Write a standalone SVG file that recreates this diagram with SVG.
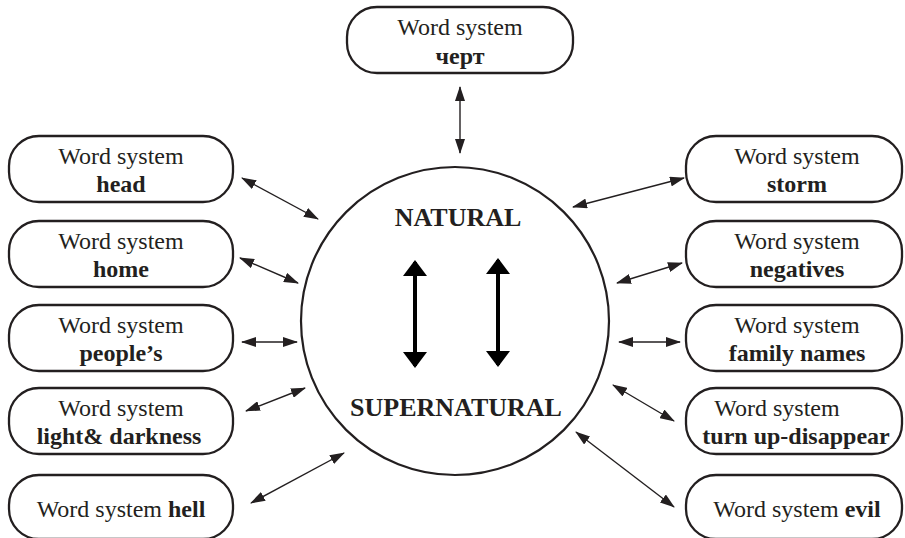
<svg xmlns="http://www.w3.org/2000/svg" width="905" height="538" viewBox="0 0 905 538">
<defs>
<style>
.box{fill:#fff;stroke:#231f20;stroke-width:2.3}
.t{font-family:"Liberation Serif","Times New Roman",serif;font-size:24px;fill:#231f20;text-anchor:middle}
.b{font-weight:bold}
.big{font-family:"Liberation Serif","Times New Roman",serif;font-size:26px;font-weight:bold;fill:#231f20;text-anchor:middle}
.c{stroke:#231f20;stroke-width:1.4;fill:none;marker-start:url(#ah);marker-end:url(#ah)}
.thick{stroke:#000;stroke-width:4;fill:none;marker-start:url(#bh);marker-end:url(#bh)}
</style>
<marker id="ah" viewBox="0 0 15 10" refX="14" refY="5" markerWidth="15" markerHeight="10" markerUnits="userSpaceOnUse" orient="auto-start-reverse">
<path d="M0,0 L15,5 L0,10 Z" fill="#231f20"/>
</marker>
<marker id="bh" viewBox="0 0 16 24" refX="14" refY="12" markerWidth="16" markerHeight="24" markerUnits="userSpaceOnUse" orient="auto-start-reverse">
<path d="M0,0 L16,12 L0,24 Z" fill="#000"/>
</marker>
</defs>

<g id="center">
<circle cx="455" cy="321" r="154" fill="#fff" stroke="#231f20" stroke-width="2.2"/>
<text class="big" x="458" y="226">NATURAL</text>
<text class="big" x="456" y="416">SUPERNATURAL</text>
<path class="thick" d="M415,262 L415,366"/>
<path class="thick" d="M498,260 L498,365"/>
</g>

<g id="n-chert">
<rect class="box" x="347" y="7" width="226" height="66" rx="30"/>
<text class="t" x="460" y="35">Word system</text>
<text class="t b" x="460" y="64">черт</text>
</g>

<g id="n-head">
<rect class="box" x="9" y="136" width="224" height="66" rx="30"/>
<text class="t" x="121" y="164">Word system</text>
<text class="t b" x="121" y="192">head</text>
</g>
<g id="n-home">
<rect class="box" x="9" y="221" width="224" height="66" rx="30"/>
<text class="t" x="121" y="249">Word system</text>
<text class="t b" x="121" y="277">home</text>
</g>
<g id="n-peoples">
<rect class="box" x="9" y="305" width="224" height="66" rx="30"/>
<text class="t" x="121" y="333">Word system</text>
<text class="t b" x="121" y="361">people’s</text>
</g>
<g id="n-light">
<rect class="box" x="9" y="388" width="224" height="66" rx="30"/>
<text class="t" x="121" y="416">Word system</text>
<text class="t b" x="119" y="444">light&amp; darkness</text>
</g>
<g id="n-hell">
<rect class="box" x="9" y="475" width="224" height="64" rx="30"/>
<text class="t" x="121" y="517">Word system <tspan class="b">hell</tspan></text>
</g>

<g id="n-storm">
<rect class="box" x="686" y="136" width="216" height="66" rx="30"/>
<text class="t" x="797" y="164">Word system</text>
<text class="t b" x="797" y="192">storm</text>
</g>
<g id="n-negatives">
<rect class="box" x="686" y="221" width="216" height="66" rx="30"/>
<text class="t" x="797" y="249">Word system</text>
<text class="t b" x="797" y="277">negatives</text>
</g>
<g id="n-family">
<rect class="box" x="686" y="305" width="216" height="66" rx="30"/>
<text class="t" x="797" y="333">Word system</text>
<text class="t b" x="797" y="361">family names</text>
</g>
<g id="n-turnup">
<rect class="box" x="686" y="388" width="216" height="66" rx="30"/>
<text class="t" x="777" y="416">Word system</text>
<text class="t b" x="796" y="444">turn up-disappear</text>
</g>
<g id="n-evil">
<rect class="box" x="686" y="475" width="216" height="64" rx="30"/>
<text class="t" x="797" y="517">Word system <tspan class="b">evil</tspan></text>
</g>

<g id="connectors">
<path class="c" d="M460,87 L460,153"/>
<path class="c" d="M242,178 L318,219"/>
<path class="c" d="M240,258 L298,283"/>
<path class="c" d="M242,342 L297,342"/>
<path class="c" d="M246,411 L305,388"/>
<path class="c" d="M251,503 L344,453"/>
<path class="c" d="M573,207 L684,178"/>
<path class="c" d="M617,283 L682,263"/>
<path class="c" d="M619,342 L680,342"/>
<path class="c" d="M613,385 L674,421"/>
<path class="c" d="M576,432 L674,507"/>
</g>
</svg>
